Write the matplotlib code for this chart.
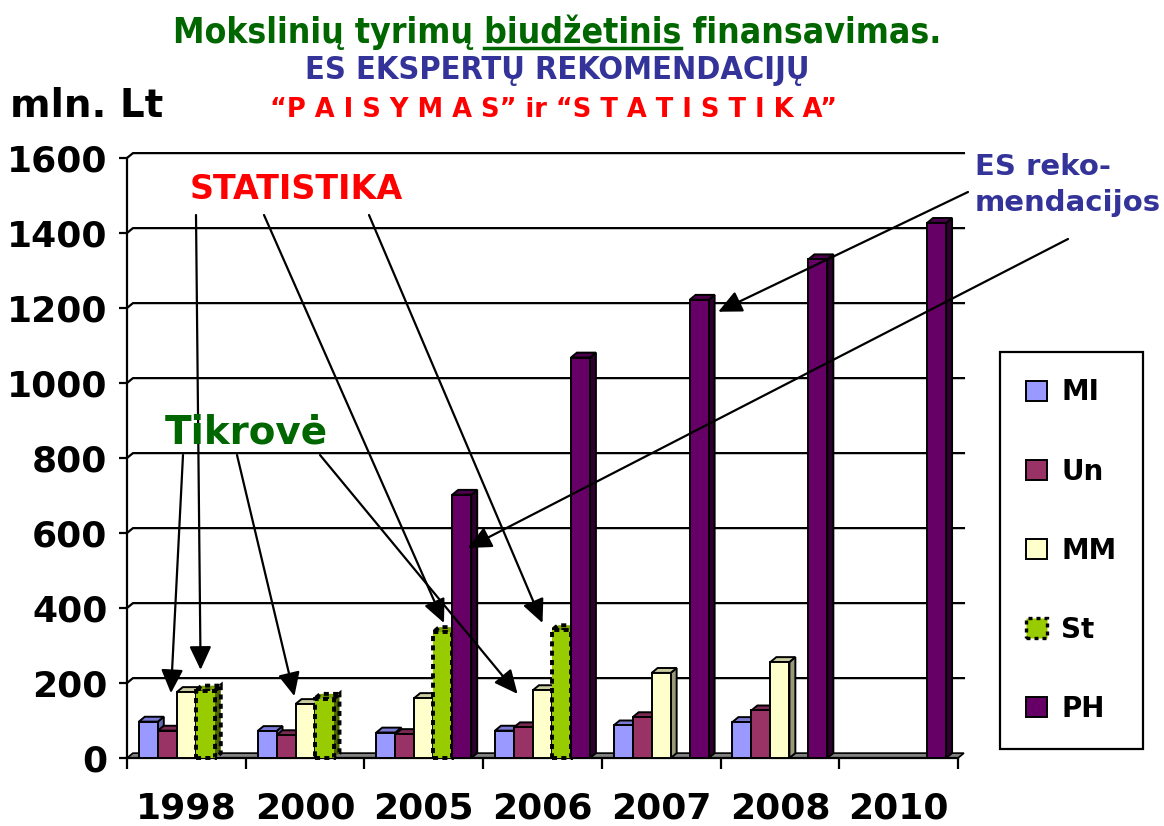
import numpy as np
import matplotlib
matplotlib.use('Agg')
import matplotlib.pyplot as plt
from matplotlib.patches import Polygon, Patch

# data (mln. Lt)
years = ['1998', '2000', '2005', '2006', '2007', '2008', '2010']
series = ['MI', 'Un', 'MM', 'St', 'PH']
mi = [97, 72, 68, 73, 87, 96, np.nan]
un = [73, 61, 64, 82, 109, 127, np.nan]
mm = [176, 144, 160, 181, 227, 256, np.nan]
st = [180, 158, 336, 341, np.nan, np.nan, np.nan]
ph = [np.nan, np.nan, 702, 1068, 1222, 1330, 1427]
yticks = [0, 200, 400, 600, 800, 1000, 1200, 1400, 1600]

# face, side, top colours
colors = [('#9999FF', '#6666B0', '#7A7AD6'),
          ('#993366', '#5C1F3D', '#7A2952'),
          ('#FFFFCC', '#99997A', '#CCCCA3'),
          ('#99CC00', '#4D6600', '#7AA300'),
          ('#660066', '#2E002E', '#4D004D')]

W, H = 1164, 826
plt.rcParams['font.family'] = 'DejaVu Sans'
plt.rcParams['font.weight'] = 'bold'

fig = plt.figure(figsize=(W / 100, H / 100), dpi=100)
ax = fig.add_axes([127 / W, 68 / H, 831 / W, 600 / H])
ax.set_xlim(-0.5, 6.5)
ax.set_ylim(0, 1600)
ax.patch.set_alpha(0)

DX, DY = 0.05, 13   # depth of the 3D look, in data units
BW = 0.16
x = np.arange(len(years))


def px(xp, yp):
    # picture pixels (top-left origin) -> figure fraction
    return xp / W, 1 - yp / H


# back wall grid lines
for v in yticks[1:]:
    ax.plot([-0.5, -0.5 + DX, 6.5 + DX], [v, v + DY, v + DY], color='black', lw=1.6,
            zorder=1, clip_on=False)
floor = Polygon([(-0.5, 0), (6.5, 0), (6.5 + DX, DY), (-0.5 + DX, DY)], closed=True,
                facecolor='#808080', edgecolor='black', lw=1.2, zorder=2, clip_on=False)
ax.add_patch(floor)

for j, (vals, (fc, sc, tc)) in enumerate(zip([mi, un, mm, st, ph], colors)):
    z = 3 + j * 0.1
    if series[j] == 'St':
        kw = dict(edgecolor='black', lw=2.8, linestyle=(0, (1.3, 1.1)))
    else:
        kw = dict(edgecolor='black', lw=1.4)
    bars = ax.bar(x + (j - 2) * BW, vals, BW, color=fc, zorder=z, clip_on=False, **kw)
    for b, v in zip(bars, vals):
        if np.isnan(v):
            continue
        x0, x1 = b.get_x(), b.get_x() + b.get_width()
        side = Polygon([(x1, 0), (x1, v), (x1 + DX, v + DY), (x1 + DX, DY)], closed=True,
                       facecolor=sc, zorder=z - 0.01, clip_on=False, **kw)
        top = Polygon([(x0, v), (x1, v), (x1 + DX, v + DY), (x0 + DX, v + DY)], closed=True,
                      facecolor=tc, zorder=z - 0.01, clip_on=False, **kw)
        ax.add_patch(side)
        ax.add_patch(top)

for s in ['top', 'right']:
    ax.spines[s].set_visible(False)
ax.spines['left'].set_linewidth(1.6)
ax.spines['bottom'].set_linewidth(1.6)
ax.spines['left'].set_zorder(5)

ax.set_yticks(yticks)
ax.set_yticklabels([str(v) for v in yticks], fontsize=26, fontweight='bold')
ax.tick_params(axis='y', length=6, width=1.6, pad=8)
ax.set_xticks(x)
ax.set_xticklabels(years, fontsize=26, fontweight='bold')
ax.set_xticks(np.arange(-0.5, 7, 1), minor=True)
ax.tick_params(axis='x', which='major', length=0, pad=24)
ax.tick_params(axis='x', which='minor', length=8, width=1.6)

# titles
t1 = fig.text(*px(557, 43), 'Mokslinių tyrimų biudžetinis finansavimas.', ha='center',
              va='baseline', fontsize=25.5, fontweight='bold', fontstretch='condensed',
              color='#006600')
fig.text(*px(557, 79), 'ES EKSPERTŲ REKOMENDACIJŲ', ha='center', va='baseline',
         fontsize=23.3, fontweight='bold', fontstretch='condensed', color='#333399')
fig.text(*px(553, 117), '“P A I S Y M A S” ir “S T A T I S T I K A”', ha='center',
         va='baseline', fontsize=18.5, fontweight='bold', color='#FF0000')
fig.text(*px(10, 117), 'mln. Lt', ha='left', va='baseline', fontsize=28, fontweight='bold')

# underline of "biudžetinis"
r = fig.canvas.get_renderer()
bb = t1.get_window_extent(r)
prop = t1.get_fontproperties()
w_pre, _, _ = r.get_text_width_height_descent('Mokslinių tyrimų biudžetinis', prop, ismath=False)
w_word, _, _ = r.get_text_width_height_descent('biudžetinis', prop, ismath=False)
ux1 = bb.x0 + w_pre
ux0 = ux1 - w_word
uy = (H - 48)
fig.add_artist(plt.Line2D([ux0 / W, ux1 / W], [uy / H, uy / H], color='#006600', lw=2.5))

# annotation texts
fig.text(*px(296, 199), 'STATISTIKA', ha='center', va='baseline', fontsize=24,
         fontweight='bold', color='#FF0000')
fig.text(*px(246, 443), 'Tikrovė', ha='center', va='baseline', fontsize=28,
         fontweight='bold', color='#006600')
fig.text(*px(975, 175), 'ES reko-', ha='left', va='baseline', fontsize=21,
         fontweight='bold', color='#333399')
fig.text(*px(975, 211), 'mendacijos', ha='left', va='baseline', fontsize=21,
         fontweight='bold', color='#333399')

# arrows: tail in picture pixels, tip in data coordinates
arrows = [((196, 215), (0.12, 235)),
          ((264, 215), (2.17, 360)),
          ((369, 215), (3.00, 360)),
          ((183, 455), (-0.13, 173)),
          ((237, 455), (0.91, 165)),
          ((320, 455), (2.79, 171)),
          ((968, 192), (4.48, 1190)),
          ((1068, 239), (2.37, 560))]
for tail, tip in arrows:
    ax.annotate('', xy=tip, xycoords='data', xytext=px(*tail), textcoords='figure fraction',
                arrowprops=dict(arrowstyle='-|>,head_length=0.9,head_width=0.42', color='black',
                                lw=1.6, shrinkA=0, shrinkB=0, mutation_scale=16),
                zorder=10, annotation_clip=False)

# legend
handles = []
for j, name in enumerate(series):
    if name == 'St':
        handles.append(Patch(facecolor=colors[j][0], edgecolor='black', lw=2.4,
                             linestyle=(0, (1.2, 1.2))))
    else:
        handles.append(Patch(facecolor=colors[j][0], edgecolor='black', lw=1.4))
leg = fig.legend(handles, series, loc='upper left', bbox_to_anchor=px(1000, 352),
                 frameon=True, fancybox=False, edgecolor='black', framealpha=1,
                 prop={'weight': 'bold', 'size': 20}, handlelength=0.75, handleheight=0.75,
                 labelspacing=1.84, borderpad=0.95, handletextpad=0.5, borderaxespad=0)
leg.get_frame().set_linewidth(1.6)

fig.savefig('out.png', dpi=100)
